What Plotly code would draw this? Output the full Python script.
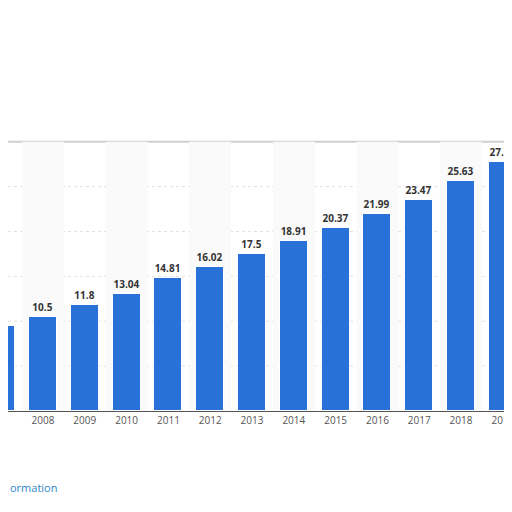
import plotly.graph_objects as go

years = [2007, 2008, 2009, 2010, 2011, 2012, 2013, 2014, 2015, 2016, 2017, 2018, 2019]
values = [9.47, 10.5, 11.8, 13.04, 14.81, 16.02, 17.5, 18.91, 20.37, 21.99, 23.47, 25.63, 27.75]
labels = ["9.47", "10.5", "11.8", "13.04", "14.81", "16.02", "17.5", "18.91", "20.37", "21.99", "23.47", "25.63", "27.75"]

fig = go.Figure()
shapes = []
for yr in years:
    if yr % 2 == 0:
        shapes.append(dict(type="rect", xref="x", yref="y", x0=yr - 0.5, x1=yr + 0.5, y0=0, y1=30,
                           fillcolor="#fafafa", line_width=0, layer="below"))
for g in [5, 10, 15, 20, 25]:
    shapes.append(dict(type="line", xref="paper", yref="y", x0=0, x1=0.99, y0=g, y1=g,
                       line=dict(color="#e0e0e0", width=1, dash="dot"), layer="below"))
shapes.append(dict(type="line", xref="paper", yref="y", x0=0, x1=0.99, y0=30, y1=30,
                   line=dict(color="#cfcfcf", width=2), layer="below"))

fig.add_trace(go.Bar(x=years, y=values, width=0.67, marker=dict(color="#2871d9", line=dict(color="white", width=1)),
                     text=labels, textposition="outside", cliponaxis=False,
                     textfont=dict(family="Open Sans", size=10, color="#333333")))
fig.update_traces(texttemplate="<b>%{text}</b>")
fig.update_layout(
    width=512, height=512, margin=dict(l=0, r=0, t=0, b=109),
    paper_bgcolor="white", plot_bgcolor="white", showlegend=False,
    shapes=shapes, bargap=0,
    xaxis=dict(type="linear", range=[2007.163, 2019.41], tickmode="array", tickvals=years,
               ticktext=[str(y) for y in years],
               showgrid=False, zeroline=False, showline=True, linecolor="#555555", linewidth=1, ticks="",
               tickfont=dict(family="Open Sans", size=10, color="#555555")),
    yaxis=dict(range=[0, 44.9], visible=False),
    annotations=[
        dict(x=0, y=-0.189, xref="paper", yref="paper", xanchor="left", yanchor="middle", text="ormation",
             showarrow=False, font=dict(family="Open Sans", size=11, color="#2f86c9")),
        dict(x=1, y=-0.129, xref="paper", yref="paper", xanchor="right", yanchor="middle", text="©",
             showarrow=False, font=dict(family="Open Sans", size=11, color="#777777")),
    ],
)
fig.write_html("out.html")
